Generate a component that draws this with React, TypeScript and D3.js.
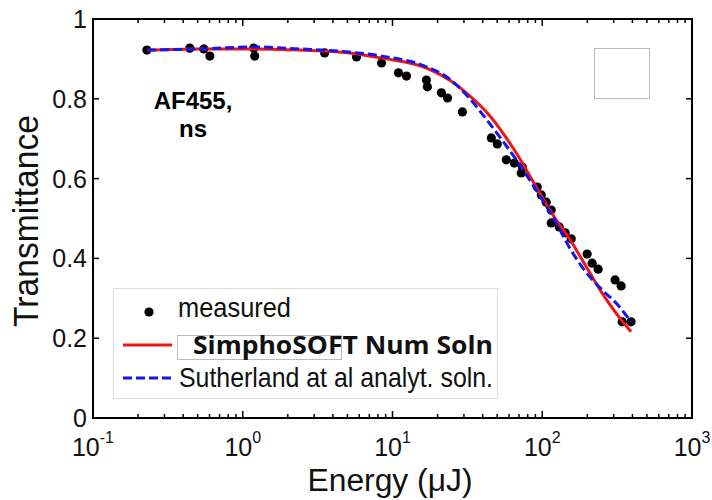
import React from "react";
import * as d3 from "d3";

const measuredE = [0.229, 0.443, 0.55, 0.603, 1.184, 1.202, 3.52, 5.75, 8.45, 10.96, 12.4, 16.85, 17.1, 21.2, 23.3, 29.3, 45.7, 50.1, 57.5, 65.1, 73.6, 72.4, 92.6, 98.5, 106.3, 114.8, 114.8, 129.8, 142.3, 156.1, 199.5, 215.4, 236.2, 306.6, 336.3, 341.5, 391.9];
const measuredT = [0.922, 0.927, 0.925, 0.907, 0.927, 0.907, 0.915, 0.905, 0.89, 0.865, 0.857, 0.847, 0.83, 0.815, 0.802, 0.767, 0.702, 0.687, 0.647, 0.639, 0.629, 0.614, 0.579, 0.559, 0.541, 0.521, 0.489, 0.479, 0.464, 0.449, 0.411, 0.388, 0.373, 0.346, 0.331, 0.241, 0.241];

const modelE = [0.23, 0.517, 1.2, 2.4, 5.17, 8.5, 16.9, 24.0, 31.1, 44.3, 67.1, 91.2, 124, 151, 185, 251, 311, 392];
const simphoT = [0.922, 0.925, 0.925, 0.922, 0.915, 0.902, 0.877, 0.847, 0.815, 0.759, 0.664, 0.579, 0.496, 0.451, 0.396, 0.313, 0.263, 0.216];
const sutherT = [0.922, 0.925, 0.93, 0.925, 0.917, 0.907, 0.88, 0.85, 0.81, 0.739, 0.647, 0.571, 0.489, 0.429, 0.378, 0.321, 0.288, 0.241];

const yTicks = [0, 0.2, 0.4, 0.6, 0.8, 1];
const yTickLabels = ["0", "0.2", "0.4", "0.6", "0.8", "1"];
const xDecades = [-1, 0, 1, 2, 3];

const FONT = "'Liberation Sans', Arial, Helvetica, sans-serif";

export default function App() {
  const L = 93, R = 692, T = 19, B = 418;
  const x = d3.scaleLog().domain([0.1, 1000]).range([L, R]);
  const y = d3.scaleLinear().domain([0, 1]).range([B, T]);

  const line = d3
    .line<number>()
    .x((_, i) => x(modelE[i]))
    .y((d) => y(d))
    .curve(d3.curveMonotoneX);

  const minor: number[] = [];
  for (let k = -1; k < 3; k++) {
    for (let m = 2; m <= 9; m++) minor.push(m * Math.pow(10, k));
  }

  return (
    <svg
      width={712}
      height={500}
      style={{ position: "absolute", left: 0, top: 0, background: "#fff" }}
      fontFamily={FONT}
    >
      <rect x={0} y={0} width={712} height={500} fill="#fff" />

      {/* data */}
      {measuredE.map((e, i) => (
        <circle key={"m" + i} cx={x(e)} cy={y(measuredT[i])} r={4.6} fill="#000" />
      ))}
      <path d={line(simphoT) || ""} fill="none" stroke="#f01414" strokeWidth={3} />
      <path d={line(sutherT) || ""} fill="none" stroke="#1515f0" strokeWidth={3} strokeDasharray="9,4" />

      {/* frame */}
      <rect x={L} y={T} width={R - L} height={B - T} fill="none" stroke="#000" strokeWidth={2} />

      {/* y ticks */}
      {yTicks.map((t, i) => (
        <g key={"y" + i}>
          <line x1={L} x2={L + 6} y1={y(t)} y2={y(t)} stroke="#000" strokeWidth={1.5} />
          <line x1={R} x2={R - 6} y1={y(t)} y2={y(t)} stroke="#000" strokeWidth={1.5} />
          <text x={87} y={y(t) + 9} textAnchor="end" fontSize={25} fill="#111">
            {yTickLabels[i]}
          </text>
        </g>
      ))}

      {/* x ticks */}
      {xDecades.map((k) => {
        const px = x(Math.pow(10, k));
        return (
          <g key={"x" + k}>
            <line x1={px} x2={px} y1={B} y2={B - 7} stroke="#000" strokeWidth={1.5} />
            <line x1={px} x2={px} y1={T} y2={T + 7} stroke="#000" strokeWidth={1.5} />
            <text x={px} y={456} textAnchor="middle" fontSize={25} fill="#111">
              10
              <tspan dy={-13} fontSize={16}>{String(k)}</tspan>
            </text>
          </g>
        );
      })}
      {minor.map((v, i) => (
        <g key={"mn" + i}>
          <line x1={x(v)} x2={x(v)} y1={B} y2={B - 4} stroke="#000" strokeWidth={1.5} />
          <line x1={x(v)} x2={x(v)} y1={T} y2={T + 4} stroke="#000" strokeWidth={1.5} />
        </g>
      ))}

      {/* axis labels */}
      <text x={390} y={491} textAnchor="middle" fontSize={31} textLength={165} lengthAdjust="spacingAndGlyphs" fill="#111">
        Energy (μJ)
      </text>
      <text
        transform="translate(38,221) rotate(-90)"
        textAnchor="middle"
        fontSize={35}
        textLength={212}
        lengthAdjust="spacingAndGlyphs"
        fill="#111"
      >
        Transmittance
      </text>

      {/* annotation */}
      <text x={193} y={109} textAnchor="middle" fontSize={24} fontWeight="bold" fill="#000">
        AF455,
      </text>
      <text x={193} y={137} textAnchor="middle" fontSize={24} fontWeight="bold" fill="#000">
        ns
      </text>

      {/* empty box */}
      <rect x={594.5} y={48.5} width={55} height={50} fill="none" stroke="#bbb" strokeWidth={1} />

      {/* legend */}
      <rect x={113.5} y={288.5} width={384} height={110} fill="#fff" stroke="#ddd" strokeWidth={1} />
      <circle cx={149} cy={312} r={4.6} fill="#000" />
      <text x={178} y={317} fontSize={28} textLength={113} lengthAdjust="spacingAndGlyphs" fill="#111">
        measured
      </text>
      <line x1={123} x2={172} y1={345} y2={345} stroke="#f01414" strokeWidth={3} />
      <rect x={177.5} y={335.5} width={164} height={24} fill="none" stroke="#bbb" strokeWidth={1} />
      <text
        x={193}
        y={354}
        fontSize={25}
        fontFamily="'Open Sans', 'Noto Sans', sans-serif"
        fontWeight="bold"
        textLength={300}
        lengthAdjust="spacingAndGlyphs"
        fill="#111"
      >
        SimphoSOFT Num Soln
      </text>
      <line x1={123} x2={172} y1={378} y2={378} stroke="#1515f0" strokeWidth={3} strokeDasharray="9,4" />
      <text x={179} y={387} fontSize={28} textLength={314} lengthAdjust="spacingAndGlyphs" fill="#111">
        Sutherland at al analyt. soln.
      </text>
    </svg>
  );
}
